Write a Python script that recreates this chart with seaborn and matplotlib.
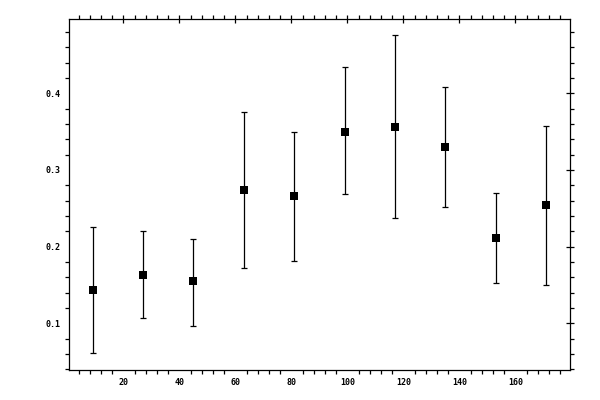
import numpy as np
import pandas as pd
import matplotlib
matplotlib.use("Agg")
import matplotlib.pyplot as plt
import seaborn as sns
from matplotlib.ticker import MultipleLocator, FormatStrFormatter

# values
xs = [9, 27, 45, 63, 81, 99, 117, 135, 153, 171]
ys = [0.143, 0.163, 0.155, 0.2735, 0.266, 0.350, 0.356, 0.330, 0.211, 0.254]
y_lo = [0.061, 0.1065, 0.097, 0.172, 0.181, 0.268, 0.237, 0.251, 0.152, 0.150]
y_hi = [0.225, 0.220, 0.210, 0.375, 0.350, 0.434, 0.476, 0.408, 0.270, 0.357]

df = pd.DataFrame({"x": xs, "y": ys, "lo": y_lo, "hi": y_hi})

sns.set_style("white")
plt.rcParams["font.family"] = ["DejaVu Sans Mono", "DejaVu Sans"]

fig = plt.figure(figsize=(6, 4), dpi=100)
ax = fig.add_axes([0.1155, 0.075, 0.8345, 0.877])

yerr = np.vstack([df["y"] - df["lo"], df["hi"] - df["y"]])
ax.errorbar(df["x"], df["y"], yerr=yerr, fmt="none", ecolor="black",
            elinewidth=0.9, capsize=2.4, capthick=0.9, zorder=2)
sns.scatterplot(data=df, x="x", y="y", marker="s", color="black", s=30,
                edgecolor="black", linewidth=0, ax=ax, zorder=3)

ax.set_xlim(0.7, 179.5)
ax.set_ylim(0.039, 0.4966)
ax.xaxis.set_major_locator(MultipleLocator(20))
ax.xaxis.set_minor_locator(MultipleLocator(4))
ax.yaxis.set_major_locator(MultipleLocator(0.1))
ax.yaxis.set_minor_locator(MultipleLocator(0.02))
ax.yaxis.set_major_formatter(FormatStrFormatter("%.1f"))
ax.set_xlabel("")
ax.set_ylabel("")

for sp in ax.spines.values():
    sp.set_visible(True)
    sp.set_color("black")
    sp.set_linewidth(0.9)

ax.tick_params(which="major", direction="inout", length=6, width=0.9,
               top=True, right=True, labelsize=6, pad=3, color="black",
               labelcolor="black")
ax.tick_params(which="minor", direction="out", length=2.7, width=0.9,
               top=True, right=True, bottom=True, left=True, color="black")
for lab in ax.get_xticklabels() + ax.get_yticklabels():
    lab.set_fontweight("bold")

fig.savefig("out.png", dpi=100)
